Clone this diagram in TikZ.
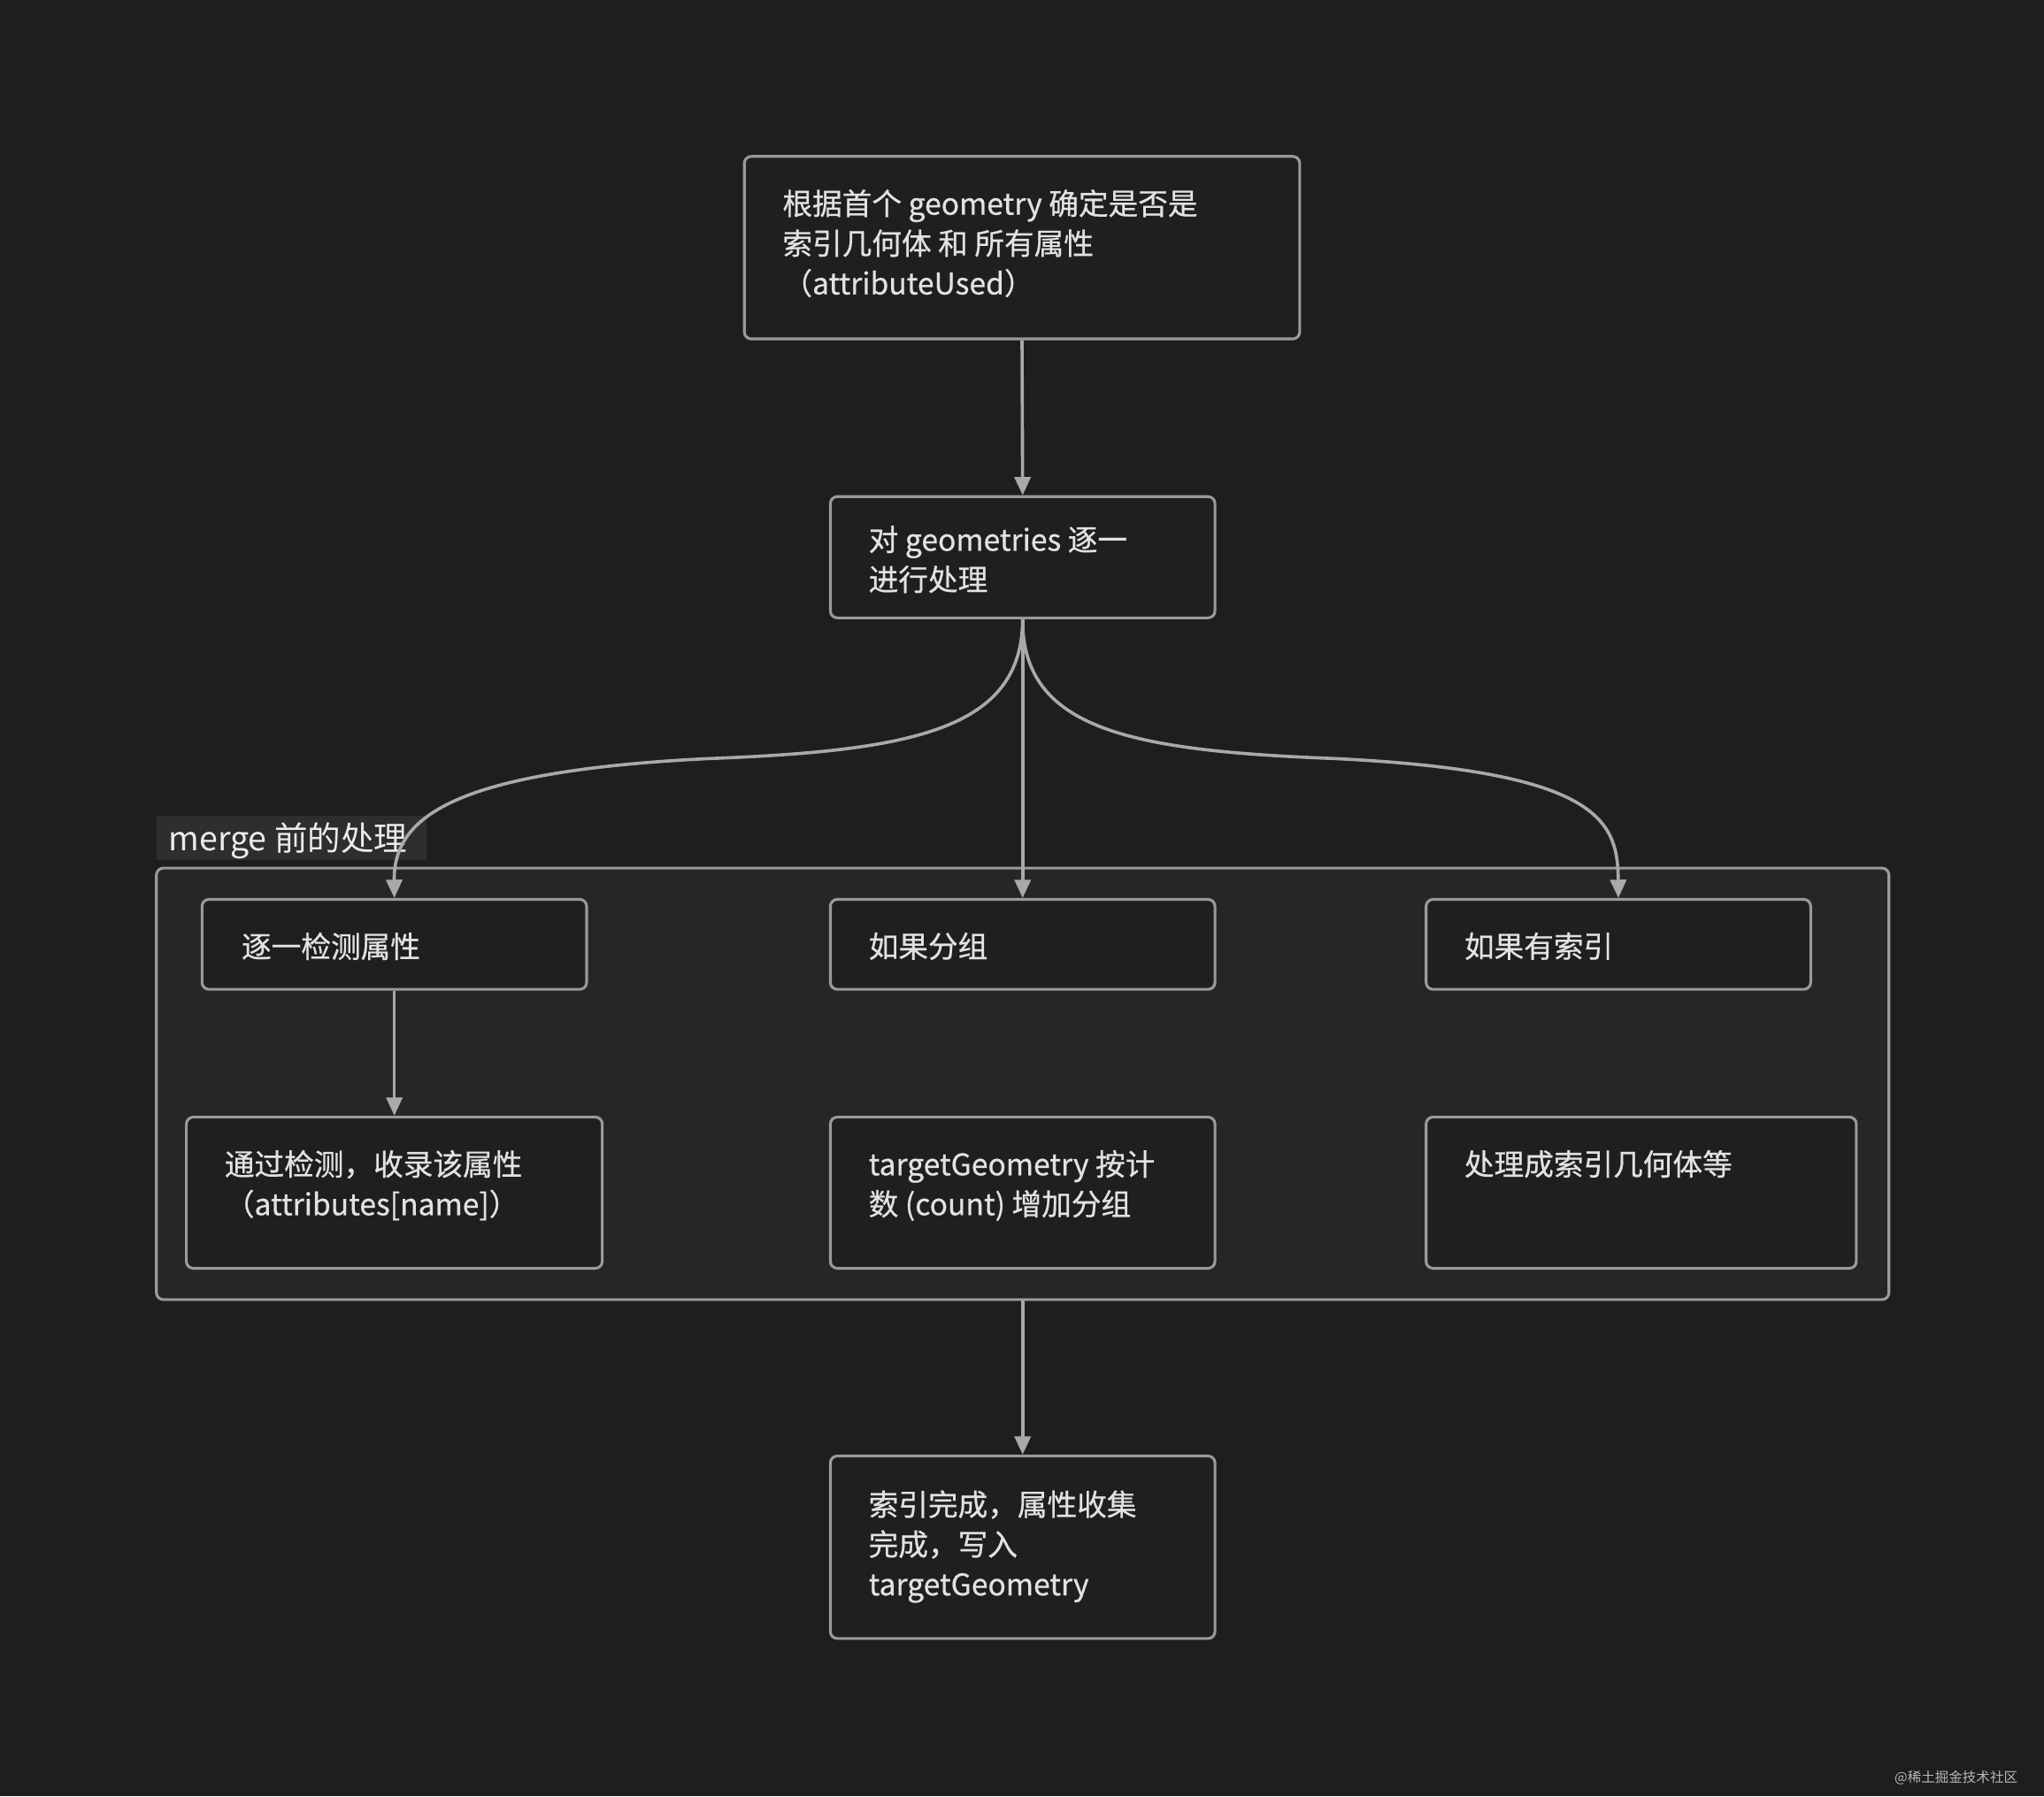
\documentclass[tikz,border=0pt]{standalone}
\usepackage{fontspec}
\setmainfont{Noto Sans CJK SC}
\newfontfamily\boxfont{Noto Sans CJK SC}[FakeBold=0.6]
\usetikzlibrary{fit,arrows.meta}
\definecolor{bgcol}{HTML}{1E1E1E}
\definecolor{boxcol}{HTML}{1F1F1F}
\definecolor{grpcol}{HTML}{262626}
\definecolor{lblcol}{HTML}{2E2E2E}
\definecolor{edgecol}{HTML}{9A9A9A}
\definecolor{txtcol}{HTML}{E2E2E2}
\tikzset{
	stepbox/.style={draw=edgecol, line width=1.2pt, fill=boxcol, rounded corners=3pt, inner sep=0pt},
	groupbox/.style={draw=edgecol, line width=1.2pt, fill=grpcol, rounded corners=3pt, inner sep=0pt},
	txt/.style={text=txtcol, font=\boxfont\fontsize{13pt}{17.4pt}\selectfont, align=left, inner sep=0pt, anchor=north west},
	link/.style={draw=edgecol!85, line width=1.4pt, -{Triangle[length=8pt,width=7pt]}}
}
\begin{document}
\begin{tikzpicture}[x=0.02cm,y=-0.02cm]
	\fill[bgcol] (0,0) rectangle (1568,1378);
	\useasboundingbox (0,0) rectangle (1568,1378);

	% group
	\node[groupbox, fit={(120,666) (1449,997)}] (grp) {};
	\node[fill=lblcol, inner sep=0pt, fit={(120,626) (327,660)}] (grplbl) {};
	\node[txt, text=txtcol!70, font=\fontsize{14.5pt}{17pt}\selectfont] at (129,631) {merge 前的处理};

	% boxes
	\node[stepbox, fit={(571,120) (997,260)}] (first) {};
	\node[stepbox, fit={(637,381) (932,474)}] (each) {};
	\node[stepbox, fit={(155,690) (450,759)}] (check) {};
	\node[stepbox, fit={(637,690) (932,759)}] (group) {};
	\node[stepbox, fit={(1094,690) (1389,759)}] (index) {};
	\node[stepbox, fit={(143,857) (462,973)}] (collect) {};
	\node[stepbox, fit={(637,857) (932,973)}] (addgrp) {};
	\node[stepbox, fit={(1094,857) (1424,973)}] (toindex) {};
	\node[stepbox, fit={(637,1117) (932,1257)}] (done) {};

	% texts
	\node[txt] at (600,145) {根据首个 geometry 确定是否是\\索引几何体 和 所有属性\\（attributeUsed）};
	\node[txt] at (666,403) {对 geometries 逐一\\进行处理};
	\node[txt] at (185,715) {逐一检测属性};
	\node[txt] at (666,715) {如果分组};
	\node[txt] at (1123,715) {如果有索引};
	\node[txt] at (172,882) {通过检测，收录该属性\\（attributes[name]）};
	\node[txt] at (666,882) {targetGeometry 按计\\数 (count) 增加分组};
	\node[txt] at (1123,882) {处理成索引几何体等};
	\node[txt] at (666,1143) {索引完成，属性收集\\完成，写入\\targetGeometry};
	\node[txt, text=edgecol!70, font=\fontsize{6pt}{7pt}\selectfont] at (1453,1358) {@稀土掘金技术社区};

	% links
	\coordinate (midl) at (543,582);
	\coordinate (midr) at (1025,582);
	\draw[link] (first.south) -- (each.north);
	\draw[link] (each.south) -- (group.north);
	\draw[link] (each.south) .. controls (784,560) and (700,576) .. (midl)
		.. controls (340,592) and (302,630) .. (check.north);
	\draw[link] (each.south) .. controls (784,560) and (868,576) .. (midr)
		.. controls (1228,592) and (1241,630) .. (index.north);
	\draw[link] (check.south) -- (collect.north);
	\draw[link] (grp.south) -- (done.north);
\end{tikzpicture}
\end{document}
